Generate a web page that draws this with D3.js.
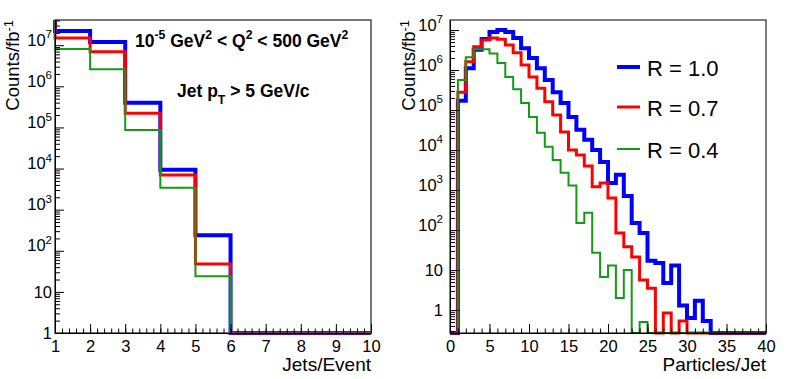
<!DOCTYPE html>
<html>
<head>
<meta charset="utf-8">
<script src="https://cdn.jsdelivr.net/npm/d3@7"></script>
<style>
  body { margin: 0; background: #fff; }
  text { font-family: "Liberation Sans", Arial, Helvetica, sans-serif; }
</style>
</head>
<body>
<div id="chart"></div>
<script>

// ---- data: Jets/Event (bin edges, one value per bin; bin 0-1 runs off the top)
var jetEdges = [0, 1, 2, 3, 4, 5, 6, 7, 8, 9, 10];
var jetsR10 = [1e8, 2.2e7, 1.2e7, 4.0e5, 9.3e3, 240, 0, 0, 0, 0];
var jetsR07 = [1e8, 1.5e7, 6.9e6, 2.2e5, 7.0e3, 48, 0, 0, 0, 0];
var jetsR04 = [1e8, 8.1e6, 2.6e6, 8.7e4, 3.4e3, 24, 0, 0, 0, 0];
var jetTicks = [1, 2, 3, 4, 5, 6, 7, 8, 9, 10];

// ---- data: Particles/Jet
var partEdges = [0, 1, 2, 3, 4, 5, 6, 7, 8, 9, 10, 11, 12, 13, 14, 15, 16, 17, 18, 19, 20,
                 21, 22, 23, 24, 25, 26, 27, 28, 29, 30, 31, 32, 33, 34, 35, 36, 37, 38, 39, 40];
var partR10 = [0, 1.7e5, 1.1e6, 3.2e6, 6.0e6, 8.9e6, 1.0e7, 8.9e6, 6.3e6, 3.5e6,
               2.0e6, 1.1e6, 5.6e5, 2.8e5, 1.5e5, 6.7e4, 3.2e4, 1.8e4, 1.0e4, 5.0e3,
               1.5e3, 2.4e3, 710, 150, 84, 17, 15, 4.7, 13, 1.3,
               0.63, 1.7, 0.53, 0, 0, 0, 0, 0, 0, 0];
var partR07 = [0, 2.8e5, 1.6e6, 3.8e6, 5.6e6, 6.3e6, 5.9e6, 4.2e6, 2.7e6, 1.33e6,
               6.7e5, 3.5e5, 1.6e5, 7.5e4, 2.8e4, 1.0e4, 7.5e3, 4.0e3, 1.2e3, 1.5e3,
               630, 84, 38, 21, 5.6, 3.5, 0, 0.84, 0, 0.53,
               0, 0, 0, 0, 0, 0, 0, 0, 0, 0];
var partR04 = [0, 5.6e5, 2.1e6, 3.3e6, 3.3e6, 2.6e6, 1.5e6, 6.7e5, 3.3e5, 1.5e5,
               6.7e4, 2.7e4, 1.2e4, 5.6e3, 2.7e3, 1.3e3, 150, 270, 27, 6.7,
               13, 2.0, 10, 0, 0.5, 0, 0, 0, 0, 0,
               0, 0, 0, 0, 0, 0, 0, 0, 0, 0];
var partTicks = [0, 5, 10, 15, 20, 25, 30, 35, 40];

var seriesNames = ["R = 1.0", "R = 0.7", "R = 0.4"];
var seriesColors = ["#0000ff", "#ff0000", "#149a14"];
var seriesWidths = [4, 3, 2];

var W = 789, H = 379;
var svg = d3.select("#chart").append("svg").attr("width", W).attr("height", H);

// text with ^sup / _sub pieces
function richText(sel, parts, size, raise) {
  raise = raise || 0.45;
  var shift = 0;
  parts.forEach(function (p) {
    var target = p.sup ? -raise * size : (p.sub ? 0.4 * size : 0);
    var ts = sel.append("tspan").attr("dy", target - shift).text(p.t);
    if (p.sup || p.sub) ts.attr("font-size", 0.7 * size);
    shift = target;
  });
}

function logMinor(dom) {
  var out = [];
  for (var k = Math.floor(Math.log10(dom[0])); k <= Math.ceil(Math.log10(dom[1])); k++)
    for (var m = 2; m <= 9; m++) {
      var v = m * Math.pow(10, k);
      if (v >= dom[0] && v <= dom[1]) out.push(v);
    }
  return out;
}

function drawPanel(p) {
  var g = svg.append("g");
  var x = d3.scaleLinear().domain(p.xDomain).range([p.left, p.right]);
  var y = d3.scaleLog().domain(p.yDomain).range([p.bottom, p.top]);
  var ymin = p.yDomain[0];

  var clipId = "clip" + p.id;
  svg.append("clipPath").attr("id", clipId).append("rect")
    .attr("x", p.left - 3).attr("y", p.top)
    .attr("width", p.right - p.left + 6).attr("height", p.bottom - p.top + 3);

  // histograms
  var line = d3.line().x(function (d) { return x(d[0]); }).y(function (d) { return y(d[1]); });
  p.series.forEach(function (vals, si) {
    var e = p.edges;
    var pts = [[e[0], ymin]];
    vals.forEach(function (v, i) {
      var vv = v > ymin ? v : ymin;
      pts.push([e[i], vv], [e[i + 1], vv]);
    });
    pts.push([e[e.length - 1], ymin]);
    g.append("path")
      .attr("clip-path", "url(#" + clipId + ")")
      .attr("d", line(pts))
      .attr("fill", "none")
      .attr("stroke", seriesColors[si])
      .attr("stroke-width", seriesWidths[si])
      .attr("stroke-linejoin", "miter");
  });

  // frame
  g.append("rect")
    .attr("x", p.left).attr("y", p.top)
    .attr("width", p.right - p.left).attr("height", p.bottom - p.top)
    .attr("fill", "none").attr("stroke", p.frameColor).attr("stroke-width", p.frameWidth);

  // x axis
  var xMinor = g.append("g").attr("transform", "translate(0," + p.bottom + ")")
    .call(d3.axisBottom(x).tickValues(p.xMinor).tickSize(-4.5).tickFormat(""));
  xMinor.select(".domain").remove();
  var xAx = g.append("g").attr("transform", "translate(0," + p.bottom + ")")
    .call(d3.axisBottom(x).tickValues(p.xTicks).tickSize(-9).tickSizeOuter(0).tickPadding(7));
  xAx.attr("font-size", 16.5).attr("font-family", null);
  xAx.selectAll(".tick text").attr("fill", "#000");

  // y axis (log)
  var yMinor = g.append("g").attr("transform", "translate(" + p.left + ",0)")
    .call(d3.axisLeft(y).tickValues(logMinor(p.yDomain)).tickSize(-5).tickFormat(""));
  yMinor.select(".domain").remove();
  var yAx = g.append("g").attr("transform", "translate(" + p.left + ",0)")
    .call(d3.axisLeft(y).tickValues(p.yTicks).tickSize(-9).tickSizeOuter(0)
      .tickPadding(p.yPad).tickFormat(""));
  yAx.attr("font-size", 16.5).attr("font-family", null);
  yAx.selectAll(".tick text").each(function (d) {
    var e = Math.round(Math.log10(d));
    var t = d3.select(this).attr("fill", "#000");
    if (e === 0) t.text("1");
    else if (e === 1) t.text("10");
    else richText(t, [{ t: "10" }, { t: String(e), sup: true }], 16.5);
  });
  g.selectAll(".domain").attr("stroke", "#000");

  // titles
  g.append("text").attr("x", p.right).attr("y", 371)
    .attr("text-anchor", "end").attr("font-size", 19).text(p.xTitle);
  var yt = g.append("text")
    .attr("transform", "translate(" + p.yTitleX + "," + p.top + ") rotate(-90)")
    .attr("text-anchor", "end").attr("font-size", 18.5);
  richText(yt, [{ t: "Counts/fb" }, { t: "-1", sup: true }], 18.5, 0.32);
  return { g: g, x: x, y: y };
}

var left = drawPanel({
  id: "L", left: 55, right: 371, top: 20, bottom: 333,
  xDomain: [1, 10], yDomain: [1, 4.1e7],
  edges: jetEdges, series: [jetsR10, jetsR07, jetsR04],
  xTicks: jetTicks, xMinor: d3.range(1, 10.001, 0.2),
  yTicks: [1, 10, 1e2, 1e3, 1e4, 1e5, 1e6, 1e7], yPad: 3,
  xTitle: "Jets/Event", yTitleX: 19,
  frameColor: "#555", frameWidth: 1.6
});

var right = drawPanel({
  id: "R", left: 450, right: 766, top: 20, bottom: 333,
  xDomain: [0, 40], yDomain: [0.266, 1.78e7],
  edges: partEdges, series: [partR10, partR07, partR04],
  xTicks: partTicks, xMinor: partEdges,
  yTicks: [1, 10, 1e2, 1e3, 1e4, 1e5, 1e6, 1e7], yPad: 7,
  xTitle: "Particles/Jet", yTitleX: 415,
  frameColor: "#000", frameWidth: 1
});

// annotations in left panel
var a1 = svg.append("text").attr("x", 135).attr("y", 47)
  .attr("font-size", 17.5).attr("font-weight", "bold");
richText(a1, [{ t: "10" }, { t: "-5", sup: true }, { t: " GeV" }, { t: "2", sup: true },
  { t: " < Q" }, { t: "2", sup: true }, { t: " < 500 GeV" }, { t: "2", sup: true }], 17.5);
var a2 = svg.append("text").attr("x", 177).attr("y", 97)
  .attr("font-size", 17.5).attr("font-weight", "bold");
richText(a2, [{ t: "Jet p" }, { t: "T", sub: true }, { t: " > 5 GeV/c" }], 17.5);

// legend in right panel
var legY = [67, 107, 149];
seriesNames.forEach(function (name, i) {
  svg.append("line").attr("x1", 617).attr("x2", 640).attr("y1", legY[i]).attr("y2", legY[i])
    .attr("stroke", seriesColors[i]).attr("stroke-width", seriesWidths[i]);
  svg.append("text").attr("x", 647).attr("y", legY[i] + 9)
    .attr("font-size", 22).text(name);
});

</script>
</body>
</html>
